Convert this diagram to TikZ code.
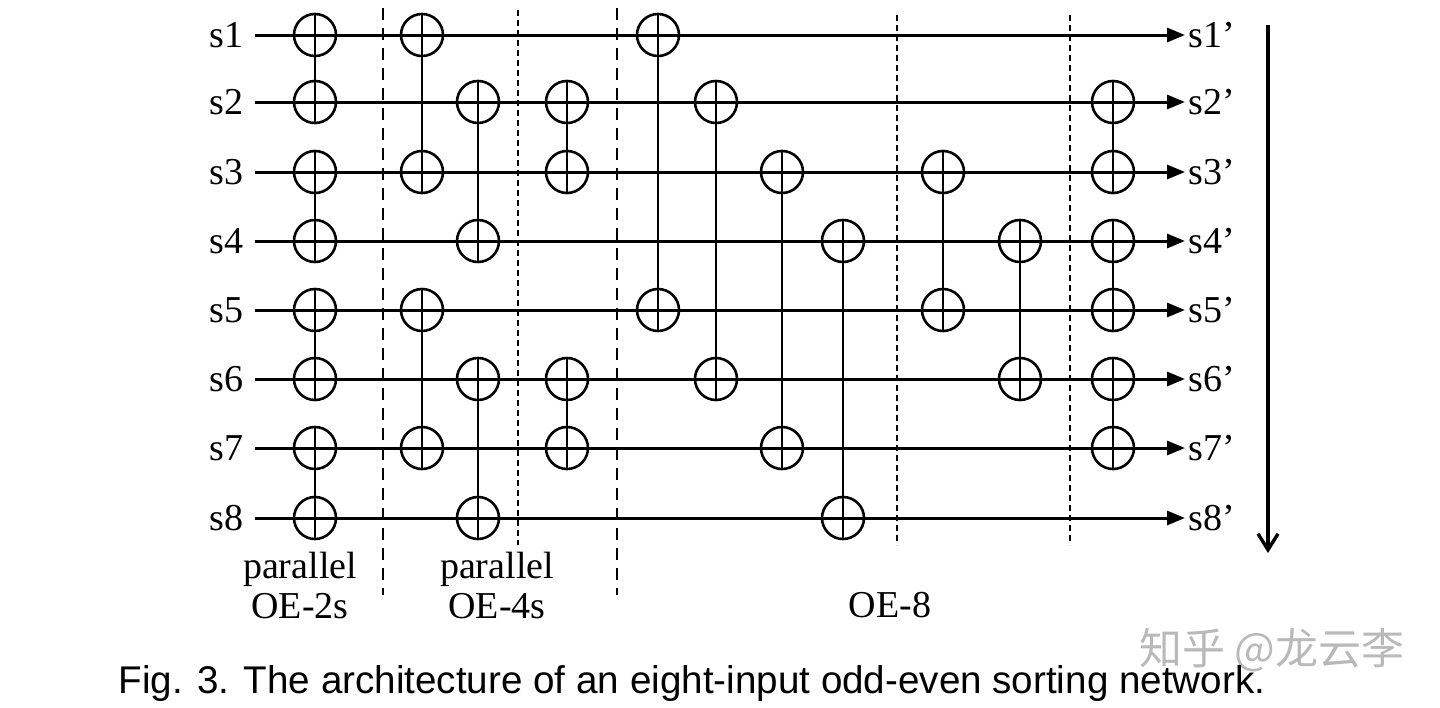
\documentclass[tikz,border=0pt]{standalone}
\usepackage{fontspec}
\setmainfont{Liberation Serif}
\newfontfamily\capfont{Liberation Sans}
\newfontfamily\cjk{Noto Sans CJK SC}
\usetikzlibrary{arrows.meta}
\begin{document}
\begin{tikzpicture}[x=0.5pt,y=-0.5pt,
  wire/.style={line width=1.5pt,-{Triangle[length=9pt,width=7pt]}},
  cmp/.style={circle,draw,line width=1.3pt,minimum size=21pt,inner sep=0pt,
    path picture={\draw[line width=1.3pt] (path picture bounding box.north)--(path picture bounding box.south) (path picture bounding box.west)--(path picture bounding box.east);}},
  link/.style={line width=1.3pt},
  lab/.style={font=\fontsize{19}{20}\selectfont,inner sep=0pt},
  thick dash/.style={line width=1.3pt,dash pattern=on 6pt off 4pt},
  thin dash/.style={line width=0.7pt,dash pattern=on 3pt off 2pt}]
\useasboundingbox (0,0) rectangle (1440,707);
\foreach \i/\y in {1/35,2/102,3/172,4/241,5/310,6/379,7/448,8/518}{
  \node[lab,anchor=east] (s\i) at (244,\y) {s\i};
  \coordinate (w\i) at (255,\y);
  \coordinate (e\i) at (1185,\y);
  \node[lab,anchor=west] (o\i) at (1188,\y) {s\i’};
  \draw[wire] (w\i) -- (e\i);
}
% dashed separators
\coordinate (d1a) at (383,8); \coordinate (d1b) at (383,595);
\coordinate (d2a) at (617,8); \coordinate (d2b) at (617,595);
\draw[thick dash] (d1a)--(d1b);
\draw[thick dash] (d2a)--(d2b);
\coordinate (t1a) at (518,10); \coordinate (t1b) at (518,545);
\coordinate (t2a) at (897,15); \coordinate (t2b) at (897,545);
\coordinate (t3a) at (1070,15); \coordinate (t3b) at (1070,545);
\foreach \n in {t1,t2,t3}{\draw[thin dash] (\n a)--(\n b);}
% comparators
\newcommand\cmpair[4]{%
  \node[cmp] (#1a) at (#2,#3) {};
  \node[cmp] (#1b) at (#2,#4) {};
  \draw[link] (#1a.center)--(#1b.center);}
\cmpair{c1}{315}{35}{102}
\cmpair{c2}{315}{172}{241}
\cmpair{c3}{315}{310}{379}
\cmpair{c4}{315}{448}{518}
\cmpair{c5}{422}{35}{172}
\cmpair{c6}{422}{310}{448}
\cmpair{c7}{478}{102}{241}
\cmpair{c8}{478}{379}{518}
\cmpair{c9}{567}{102}{172}
\cmpair{c10}{567}{379}{448}
\cmpair{c11}{658}{35}{310}
\cmpair{c12}{716}{102}{379}
\cmpair{c13}{782}{172}{448}
\cmpair{c14}{843}{241}{518}
\cmpair{c15}{943}{172}{310}
\cmpair{c16}{1020}{241}{379}
\cmpair{c17}{1113}{102}{172}
\cmpair{c18}{1113}{241}{310}
\cmpair{c19}{1113}{379}{448}
% time arrow
\coordinate (ta) at (1268,25); \coordinate (tb) at (1268,553);
\draw[line width=1.7pt,-{Straight Barb[length=8pt,width=10pt]}] (ta)--(tb);
% labels
\node[lab,align=center] (g1) at (300,585) {parallel\\OE-2s};
\node[lab,align=center] (g2) at (497,585) {parallel\\OE-4s};
\node[lab] (g3) at (890,605) {OE-8};
\node[font=\cjk\fontsize{21.5}{23}\selectfont,text=gray!55,inner sep=0pt] (wm) at (1272,650) {知乎 @龙云李};
\node[font=\capfont\fontsize{19.3}{21}\selectfont,inner sep=0pt] (cap) at (692,684) {Fig. 3. The architecture of an eight-input odd-even sorting network.};
\end{tikzpicture}
\end{document}
